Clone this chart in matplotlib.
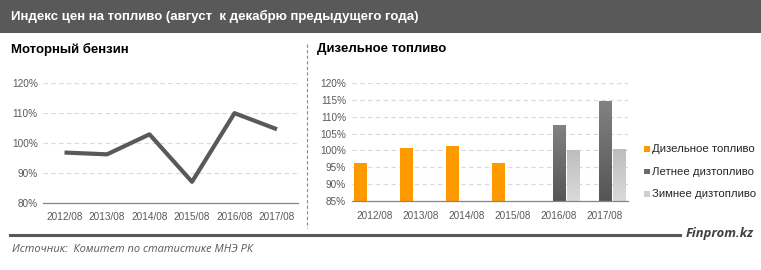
import numpy as np
import matplotlib.pyplot as plt
from matplotlib.patches import Rectangle
from matplotlib.lines import Line2D
from matplotlib import colors as mcolors

years = ['2012/08', '2013/08', '2014/08', '2015/08', '2016/08', '2017/08']
petrol = [96.8, 96.2, 102.9, 87.0, 110.0, 104.6]
diesel = [96.2, 100.7, 101.3, 96.2, None, None]
diesel_summer = [None, None, None, None, 107.2, 114.3]
diesel_winter = [None, None, None, None, 99.9, 100.2]

W, H = 761, 270
fig = plt.figure(figsize=(W / 100, H / 100), dpi=100)
fig.patch.set_facecolor('white')

sans = ['Liberation Sans', 'DejaVu Sans']
tick_col = '#595959'


def fx(px):
    return px / W


def fy(py):
    return 1 - py / H


# header band
fig.patches.append(Rectangle((0, fy(33)), 1, 33 / H, transform=fig.transFigure,
                             facecolor='#595959', edgecolor='none', zorder=0))
fig.text(fx(11), fy(16.5), 'Индекс цен на топливо (август  к декабрю предыдущего года)',
         color='white', fontsize=9.5, fontweight='bold', family=sans, va='center')

# panel titles
fig.text(fx(11), fy(49), 'Моторный бензин', fontsize=9.5, fontweight='bold',
         family=sans, va='center', color='black')
fig.text(fx(317), fy(49), 'Дизельное топливо', fontsize=9.5, fontweight='bold',
         family=sans, va='center', color='black')

# vertical dashed separator
fig.add_artist(Line2D([fx(307), fx(307)], [fy(44), fy(228)], transform=fig.transFigure,
                      color='#8c8c8c', lw=0.8, ls=(0, (3, 2))))


def style_axes(ax, ticks, fmt):
    for s in ['top', 'right', 'left']:
        ax.spines[s].set_visible(False)
    ax.spines['bottom'].set_color('#868686')
    ax.spines['bottom'].set_linewidth(0.9)
    ax.set_yticks(ticks)
    ax.set_yticklabels([fmt % t for t in ticks], fontsize=7.2, color=tick_col, family=sans)
    ax.set_xticks(range(len(years)))
    ax.set_xticklabels(years, fontsize=7.2, color=tick_col, family=sans)
    ax.tick_params(length=0, pad=4)
    ax.tick_params(axis='x', pad=7)
    ax.grid(axis='y', color='#d9d9d9', lw=0.8, ls=(0, (4, 3)))
    ax.set_axisbelow(True)
    ax.set_xlim(-0.5, len(years) - 0.5)


# left: petrol line
ax1 = fig.add_axes([fx(43.25), fy(202.7), fx(255), 119.4 / H])
ax1.plot(range(len(years)), petrol, color='#595959', lw=3, solid_capstyle='butt')
ax1.set_ylim(80, 120)
style_axes(ax1, [80, 90, 100, 110, 120], '%d%%')

# right: diesel bars
ax2 = fig.add_axes([fx(351.5), fy(201.3), fx(276.6), 118.6 / H])
ax2.set_ylim(85, 120)
style_axes(ax2, [85, 90, 95, 100, 105, 110, 115, 120], '%d%%')
bw = 0.275
off = 0.305
x = np.arange(len(years))
for i in range(len(years)):
    if diesel[i] is not None:
        ax2.bar(x[i] - off, diesel[i] - 85, bottom=85, width=bw, color='#ff9900', zorder=2)

grad = np.linspace(0, 1, 256)


def grad_bar(xc, top, c_bot, c_top):
    c_bot = np.array(mcolors.to_rgb(c_bot))
    c_top = np.array(mcolors.to_rgb(c_top))
    img = c_bot[None, :] + (c_top - c_bot)[None, :] * grad[:, None]
    img = img.reshape(256, 1, 3)
    ax2.imshow(img, extent=(xc - bw / 2, xc + bw / 2, 85, top), origin='lower',
               aspect='auto', zorder=2, interpolation='bilinear')


for i in range(len(years)):
    if diesel_summer[i] is not None:
        grad_bar(x[i], diesel_summer[i], '#555555', '#828282')
    if diesel_winter[i] is not None:
        grad_bar(x[i] + off, diesel_winter[i], '#dadada', '#bdbdbd')
ax2.set_xlim(-0.5, len(years) - 0.5)
ax2.set_ylim(85, 120)

# legend
leg_items = [('Дизельное топливо', '#ff9900', 149.3),
             ('Летнее дизтопливо', '#6a6a6a', 171.7),
             ('Зимнее дизтопливо', '#cfcfcf', 194)]
for label, col, py in leg_items:
    fig.patches.append(Rectangle((fx(644), fy(py) - 2.5 / H), 5.5 / W, 5.5 / H,
                                 transform=fig.transFigure, facecolor=col, edgecolor='none'))
    fig.text(fx(651.5), fy(py), label, fontsize=8.2, color='#262626', family=sans, va='center')

# footer
fig.add_artist(Line2D([fx(10), fx(680)], [fy(234.5), fy(234.5)], transform=fig.transFigure,
                      color='#595959', lw=2.2))
fig.text(fx(754), fy(234), 'Finprom.kz', fontsize=9.4, fontweight='bold', style='italic',
         color='#404040', family=['Open Sans', 'DejaVu Sans'], ha='right', va='center')
fig.text(fx(12), fy(250), 'Источник:  Комитет по статистике МНЭ РК', fontsize=7.9,
         style='italic', color='#595959', family=['Open Sans', 'DejaVu Sans'], va='center')

fig.savefig('out.png', dpi=100)
